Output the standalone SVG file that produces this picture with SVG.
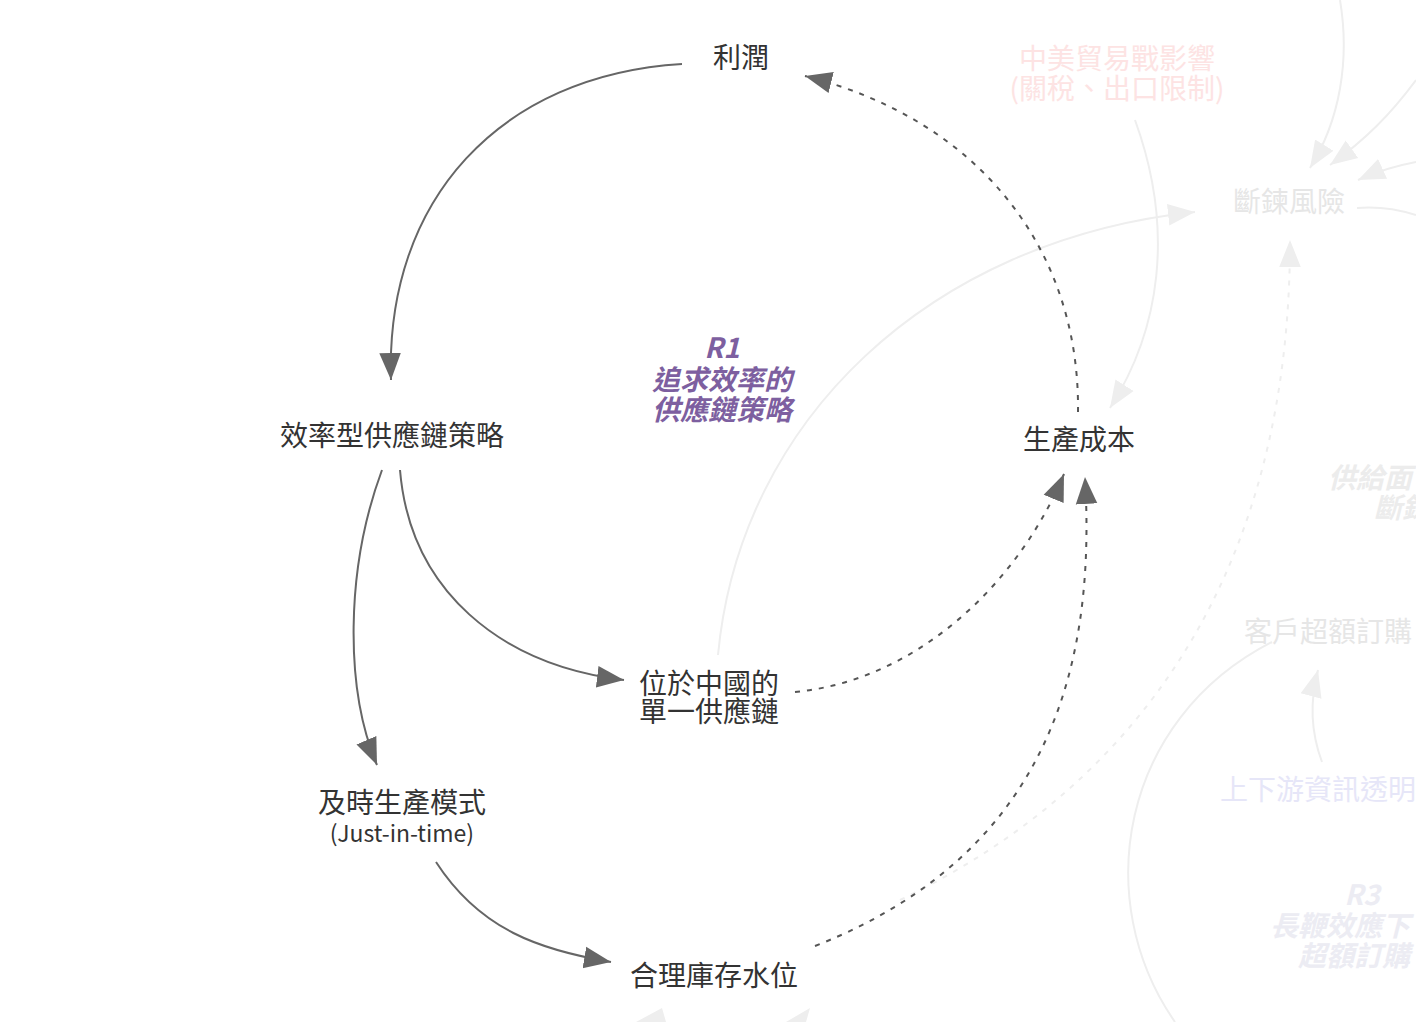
<svg xmlns="http://www.w3.org/2000/svg" width="1416" height="1022" viewBox="0 0 1416 1022">
<style>
text{font-family:"Noto Sans CJK TC","Noto Sans",sans-serif;}
.n{font-size:28px;fill:#333;text-anchor:middle;}
.s{font-size:23px;fill:#333;text-anchor:middle;}
.e{fill:none;stroke:#666;stroke-width:2;}
.d{fill:none;stroke:#555;stroke-width:2;stroke-dasharray:5 7;}
.f{fill:none;stroke:#eee;stroke-width:2;}
.fd{fill:none;stroke:#eee;stroke-width:2;stroke-dasharray:5 7;}
.loop{font-size:28px;font-weight:bold;font-style:italic;text-anchor:middle;}
.fl{font-size:28px;}
</style>
<defs>
<marker id="b" viewBox="0 0 10 10" refX="10" refY="5" markerWidth="27" markerHeight="27" markerUnits="userSpaceOnUse" orient="auto"><path d="M0,1L10,5L0,9z" fill="#666"/></marker>
<marker id="g" viewBox="0 0 10 10" refX="10" refY="5" markerWidth="27" markerHeight="27" markerUnits="userSpaceOnUse" orient="auto"><path d="M0,1L10,5L0,9z" fill="#eee"/></marker>
</defs>
<g id="faint">
<path class="f" d="M718,655 C740,420 930,240 1195,212" marker-end="url(#g)"/>
<path class="f" d="M1135,120 C1175,230 1160,330 1110,408" marker-end="url(#g)"/>
<path class="f" d="M1340,0 C1350,60 1340,120 1310,168" marker-end="url(#g)"/>
<path class="f" d="M1416,80 C1390,115 1365,140 1330,165" marker-end="url(#g)"/>
<path class="f" d="M1416,162 C1400,165 1380,170 1358,180" marker-end="url(#g)"/>
<path class="f" d="M1357,208 C1380,206 1400,210 1416,215"/>
<path class="fd" d="M900,900 C1150,780 1290,560 1290,240" marker-end="url(#g)"/>
<path class="f" d="M1272,642 C1120,720 1090,900 1175,1022"/>
<path class="f" d="M1322,762 C1310,730 1310,700 1318,670" marker-end="url(#g)"/>
<path d="M636,1022 L662,1008 L666,1022z" fill="#eee"/>
<path d="M786,1022 L810,1008 L806,1022z" fill="#eee"/>
<text class="fl" x="1117" y="69" style="fill:#fde3e3;text-anchor:middle">中美貿易戰影響</text>
<text class="fl" x="1117" y="99" style="fill:#fde3e3;text-anchor:middle">(關稅、出口限制)</text>
<text class="fl" x="1289" y="212" style="fill:#e6e6e6;text-anchor:middle">斷鍊風險</text>
<text class="fl" x="1328" y="488" style="fill:#ececec;font-weight:bold;font-style:italic">供給面</text>
<text class="fl" x="1374" y="518" style="fill:#ececec;font-weight:bold;font-style:italic">斷鍊</text>
<text class="fl" x="1244" y="642" style="fill:#e6e6e6">客戶超額訂購</text>
<text class="fl" x="1220" y="800" style="fill:#e6e6f8">上下游資訊透明</text>
<text class="fl" x="1362" y="905" style="fill:#ececf3;font-weight:bold;font-style:italic;text-anchor:middle">R3</text>
<text class="fl" x="1270" y="936" style="fill:#ececf3;font-weight:bold;font-style:italic">長鞭效應下</text>
<text class="fl" x="1298" y="966" style="fill:#ececf3;font-weight:bold;font-style:italic">超額訂購</text>
</g>
<g id="connectors">
<path class="e" d="M682,64 C500,75 385,200 391,380" marker-end="url(#b)"/>
<path class="d" d="M1078,412 C1080,250 980,120 805,76" marker-end="url(#b)"/>
<path class="e" d="M400,470 C410,590 500,665 624,680" marker-end="url(#b)"/>
<path class="e" d="M382,470 C345,570 345,690 377,765" marker-end="url(#b)"/>
<path class="d" d="M795,692 C920,680 1020,580 1064,474" marker-end="url(#b)"/>
<path class="e" d="M436,862 C480,930 540,950 611,962" marker-end="url(#b)"/>
<path class="d" d="M815,946 C1060,850 1095,650 1085,477" marker-end="url(#b)"/>
</g>
<g id="n-profit"><text class="n" x="741" y="68">利潤</text></g>
<g id="n-strategy"><text class="n" x="392" y="446">效率型供應鏈策略</text></g>
<g id="n-cost"><text class="n" x="1079" y="450">生產成本</text></g>
<g id="n-china"><text class="n" x="709" y="694">位於中國的</text><text class="n" x="709" y="722">單一供應鏈</text></g>
<g id="n-jit"><text class="n" x="402" y="813">及時生產模式</text><text class="s" x="402" y="842">(Just-in-time)</text></g>
<g id="n-inventory"><text class="n" x="714" y="986">合理庫存水位</text></g>
<g id="loop-r1" fill="#7d5fa0"><text class="loop" x="722" y="358">R1</text><text class="loop" x="722" y="390">追求效率的</text><text class="loop" x="722" y="420">供應鏈策略</text></g>
</svg>
